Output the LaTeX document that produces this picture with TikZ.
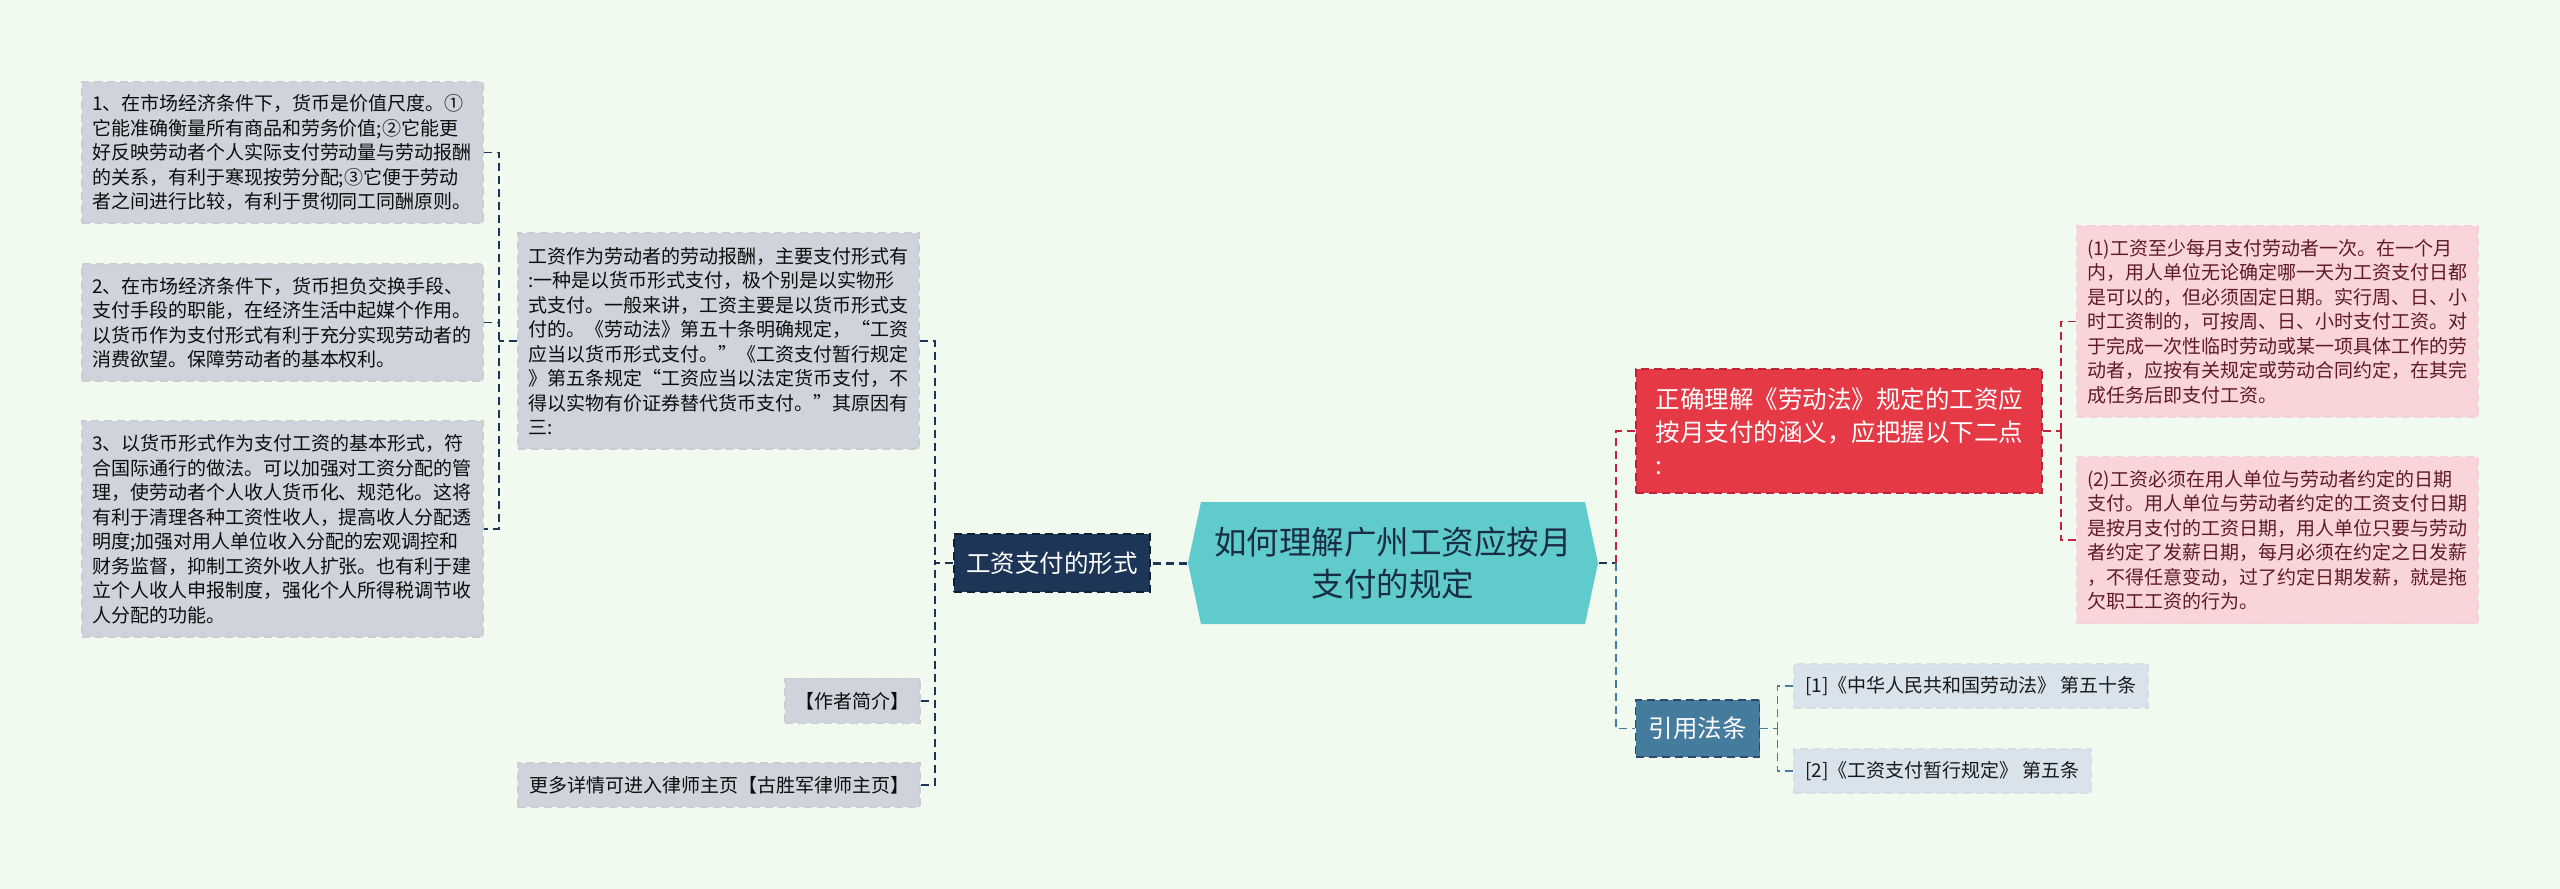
\documentclass[tikz,border=0pt]{standalone}
\usepackage{fontspec}
\setmainfont{Noto Sans CJK SC}
\usetikzlibrary{positioning,shapes.symbols}
\definecolor{paper}{HTML}{F0FAEF}
\definecolor{teal}{HTML}{60CBCD}
\definecolor{navy}{HTML}{1D3557}
\definecolor{crimson}{HTML}{E63946}
\definecolor{wine}{HTML}{C4203A}
\definecolor{steel}{HTML}{457B9D}
\definecolor{slatebox}{HTML}{CFD4DC}
\definecolor{pinkbox}{HTML}{F9D5DA}
\definecolor{mistbox}{HTML}{D9E3EC}
\definecolor{winetext}{HTML}{5F1A24}

\begin{document}
\begin{tikzpicture}[x=1pt,y=1pt,inner sep=0pt,line width=1.6pt,
                    dash pattern=on 8pt off 5pt]
  \tikzstyle{hub}=[shape=signal,signal to=west and east,signal pointer angle=156,
    fill=teal,text=navy!85!black,minimum width=410pt,minimum height=122pt,align=center,
    font=\fontsize{32.5}{42}\selectfont]
  \tikzstyle{topic}=[draw,font=\fontsize{24.5}{33}\selectfont,text=white,align=left]
  \tikzstyle{leaf}=[draw,font=\fontsize{19}{24.5}\selectfont,align=left,
    inner xsep=10pt,text width=381pt]
  \tikzstyle{tag}=[draw,font=\fontsize{19}{24.5}\selectfont,align=left,inner xsep=10pt]
  \tikzstyle{grey}=[fill=slatebox,draw=slatebox!97!black,text=black!95]
  \tikzstyle{pink}=[fill=pinkbox,draw=pinkbox!98!black,text=winetext]
  \tikzstyle{mist}=[fill=mistbox,draw=mistbox!98!black,text=black!90]
  \tikzstyle{navylink}=[draw=navy]
  \tikzstyle{redlink}=[draw=wine]
  \tikzstyle{bluelink}=[draw=steel]

  \useasboundingbox[fill=paper] (0,0) rectangle (2560,-889);

  \node[hub]                 (title)  at (1393,-563) {如何理解广州工资应按月\\支付的规定};

  % left side
  \node[topic,fill=navy,draw=navy!60!black,minimum width=196pt,minimum height=58pt,align=center]
                             (form)   at (1052,-563) {工资支付的形式};
  \node[leaf,grey,minimum height=216pt] (intro)  at (718.5,-341)
    {工资作为劳动者的劳动报酬，主要支付形式有\\:一种是以货币形式支付，极个别是以实物形\\式支付。一般来讲，工资主要是以货币形式支\\付的。《劳动法》第五十条明确规定，“工资\\应当以货币形式支付。”《工资支付暂行规定\\》第五条规定“工资应当以法定货币支付，不\\得以实物有价证券替代货币支付。”其原因有\\三:};
  \node[leaf,grey,minimum height=141pt] (why1)   at (282.5,-152.5)
    {1、在市场经济条件下，货币是价值尺度。①\\它能准确衡量所有商品和劳务价值;②它能更\\好反映劳动者个人实际支付劳动量与劳动报酬\\的关系，有利于寒现按劳分配;③它便于劳动\\者之间进行比较，有利于贯彻同工同酬原则。};
  \node[leaf,grey,minimum height=117pt] (why2)   [below=39.5pt of why1]
    {2、在市场经济条件下，货币担负交换手段、\\支付手段的职能，在经济生活中起媒个作用。\\以货币作为支付形式有利于充分实现劳动者的\\消费欲望。保障劳动者的基本权利。};
  \node[leaf,grey,minimum height=216pt] (why3)   [below=38.5pt of why2]
    {3、以货币形式作为支付工资的基本形式，符\\合国际通行的做法。可以加强对工资分配的管\\理，使劳动者个人收人货币化、规范化。这将\\有利于清理各种工资性收人，提高收人分配透\\明度;加强对用人单位收入分配的宏观调控和\\财务监督，抑制工资外收人扩张。也有利于建\\立个人收人申报制度，强化个人所得税调节收\\人分配的功能。};
  \node[tag,grey,minimum width=402pt,minimum height=44pt] (more) at (719,-785)
    {更多详情可进入律师主页【古胜军律师主页】};
  \node[tag,grey,minimum width=135pt,minimum height=45pt,align=center]
                             (author) [above=38pt of more.north east,anchor=south east] {【作者简介】};

  % right side
  \node[topic,fill=crimson,draw=wine,text width=367pt,inner xsep=19.5pt,minimum height=124pt]
                             (rule)   at (1839,-431)
    {正确理解《劳动法》规定的工资应\\按月支付的涵义，应把握以下二点\\:};
  \node[topic,fill=steel,draw=navy!70!steel,minimum width=124pt,minimum height=57pt,align=center]
                             (law)    at (1697.5,-728.5) {引用法条};
  \node[leaf,pink,minimum height=191pt] (term1)  at (2277.5,-321.5)
    {(1)工资至少每月支付劳动者一次。在一个月\\内，用人单位无论确定哪一天为工资支付日都\\是可以的，但必须固定日期。实行周、日、小\\时工资制的，可按周、日、小时支付工资。对\\于完成一次性临时劳动或某一项具体工作的劳\\动者，应按有关规定或劳动合同约定，在其完\\成任务后即支付工资。};
  \node[leaf,pink,minimum height=167pt] (term2)  [below=38pt of term1]
    {(2)工资必须在用人单位与劳动者约定的日期\\支付。用人单位与劳动者约定的工资支付日期\\是按月支付的工资日期，用人单位只要与劳动\\者约定了发薪日期，每月必须在约定之日发薪\\，不得任意变动，过了约定日期发薪，就是拖\\欠职工工资的行为。};
  \node[tag,mist,minimum width=354pt,minimum height=44pt] (cite1) at (1971,-686)
    {[1]《中华人民共和国劳动法》 第五十条};
  \node[tag,mist,minimum width=297pt,minimum height=44pt] (cite2) at (1942.5,-771)
    {[2]《工资支付暂行规定》 第五条};

  % junctions
  \coordinate[left=18pt of form.west]   (formjoin);
  \coordinate[left=18pt of intro.west]  (introjoin);
  \coordinate[right=17pt of title.east] (titlejoin);
  \coordinate[right=18pt of rule.east]  (rulejoin);
  \coordinate[right=17pt of law.east]   (lawjoin);

  \path[navylink,line width=3pt] (title.west) edge (form.east);
  \draw[navylink] (form.west) -- (formjoin);
  \draw[navylink] (intro.east) -| (formjoin);
  \draw[navylink] (more.east) -| (formjoin);
  \draw[navylink] (author.east) -- (author.east -| formjoin);
  \draw[navylink] (intro.west) -- (introjoin);
  \draw[navylink] (why1.east) -| (why3.east -| introjoin) -- (why3.east);
  \draw[navylink] (why2.east) -- (why2.east -| introjoin);

  \draw[navylink] (title.east) -- (titlejoin);
  \draw[redlink]  (titlejoin) |- (rule.west);
  \draw[bluelink] (titlejoin) |- (law.west);
  \draw[redlink]  (rule.east) -- (rulejoin);
  \draw[redlink]  (term1.west) -| (rulejoin);
  \draw[redlink]  (term2.west) -| (rulejoin);
  \draw[bluelink] (law.east) -- (lawjoin);
  \draw[bluelink] (cite1.west) -| (lawjoin);
  \draw[bluelink] (cite2.west) -| (lawjoin);
\end{tikzpicture}
\end{document}
